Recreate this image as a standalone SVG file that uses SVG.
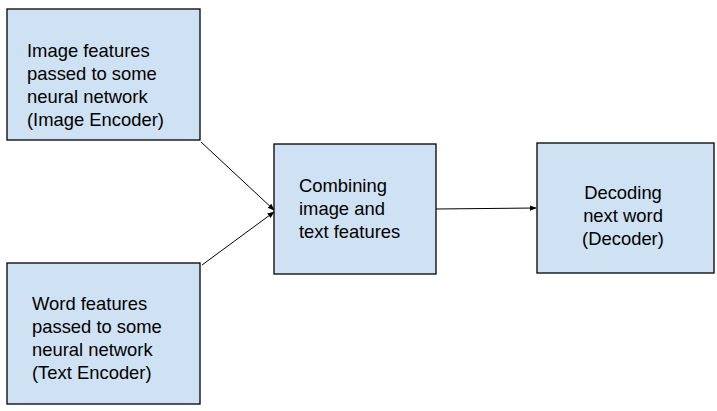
<svg xmlns="http://www.w3.org/2000/svg" width="717" height="411" viewBox="0 0 717 411">
  <style>
    .box { fill: #cfe2f3; stroke: #000; stroke-width: 1.3; }
    .lbl { font-family: "Liberation Sans", Arial, sans-serif; font-size: 18.4px; fill: #000; }
    .mid { text-anchor: middle; }
    .edge { stroke: #000; stroke-width: 1; fill: none; marker-end: url(#arr); }
  </style>
  <defs>
    <marker id="arr" viewBox="0 0 10 10" refX="9" refY="5" markerWidth="7" markerHeight="7" orient="auto" markerUnits="userSpaceOnUse">
      <path d="M0,1 L10,5 L0,9 Z" fill="#000"/>
    </marker>
  </defs>

  <g id="connectors">
    <line class="edge" x1="201" y1="142" x2="274" y2="210"/>
    <line class="edge" x1="202" y1="265" x2="274" y2="212"/>
    <line class="edge" x1="436" y1="209" x2="536" y2="208"/>
  </g>

  <g id="image-encoder">
    <rect class="box" x="7" y="9" width="193" height="131"/>
    <text class="lbl" x="27" y="57">Image features</text>
    <text class="lbl" x="27" y="80">passed to some</text>
    <text class="lbl" x="27" y="103">neural network</text>
    <text class="lbl" x="27" y="126">(Image Encoder)</text>
  </g>

  <g id="text-encoder">
    <rect class="box" x="7" y="263" width="193" height="141"/>
    <text class="lbl" x="32" y="310">Word features</text>
    <text class="lbl" x="32" y="333">passed to some</text>
    <text class="lbl" x="32" y="356">neural network</text>
    <text class="lbl" x="32" y="379">(Text Encoder)</text>
  </g>

  <g id="combiner">
    <rect class="box" x="274" y="144" width="162" height="130"/>
    <text class="lbl" x="299" y="192">Combining</text>
    <text class="lbl" x="299" y="215">image and</text>
    <text class="lbl" x="299" y="238">text features</text>
  </g>

  <g id="decoder">
    <rect class="box" x="537" y="143" width="177" height="130"/>
    <text class="lbl mid" x="623" y="199">Decoding</text>
    <text class="lbl mid" x="623" y="222">next word</text>
    <text class="lbl mid" x="623" y="245">(Decoder)</text>
  </g>
</svg>
